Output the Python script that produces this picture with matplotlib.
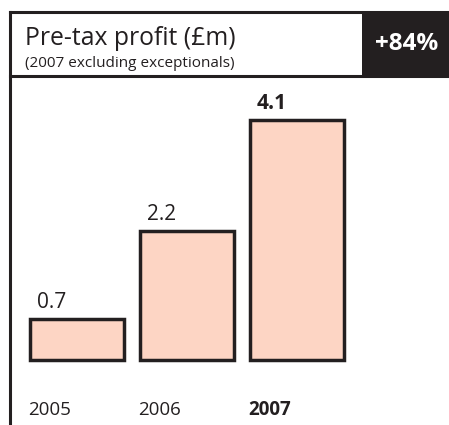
import matplotlib.pyplot as plt
from matplotlib.patches import Rectangle
from matplotlib.lines import Line2D
import matplotlib.transforms as mtrans

years = ['2005', '2006', '2007']
profit = [0.7, 2.2, 4.1]
value_labels = ['0.7', '2.2', '4.1']
bold = [False, False, True]
title = 'Pre-tax profit (£m)'
subtitle = '(2007 excluding exceptionals)'
change = '+84%'

W, H = 449, 425
dark = '#231f20'
fill = '#fdd5c4'
plt.rcParams['font.family'] = ['Open Sans', 'DejaVu Sans']

fig = plt.figure(figsize=(W / 100, H / 100), dpi=100)


def px(x, y):
    # pixel coords (from top-left) to figure fraction
    return x / W, 1 - y / H


# Frame and header
fig.add_artist(Rectangle(px(362, 76), 87 / W, 64 / H, transform=fig.transFigure,
                         facecolor=dark, edgecolor='none'))
fig.add_artist(Line2D([10 / W, 1], [1 - 12 / H] * 2, transform=fig.transFigure, color=dark, lw=2.2))
fig.add_artist(Line2D([10 / W, 1], [1 - 76 / H] * 2, transform=fig.transFigure, color=dark, lw=2.2))
fig.add_artist(Line2D([10 / W] * 2, [0, 1 - 12 / H], transform=fig.transFigure, color=dark, lw=2.2))

fig.text(*px(25, 45), title, fontsize=17.8, color=dark, va='baseline')
fig.text(*px(25, 67), subtitle, fontsize=11, color=dark, va='baseline')
fig.text(*px(407, 44), change, fontsize=17.5, color='white', fontweight='bold',
         ha='center', va='center')

# Bars
ymax = 4.6
ax_h = 240 * ymax / 4.1
ax = fig.add_axes([22 / W, 65 / H, 330 / W, ax_h / H])
x = range(len(years))
width = 0.86
ax.bar(x, profit, width=width, color=fill, edgecolor=dark, linewidth=2.5, clip_on=False)
ax.set_xlim(-0.5, 2.5)
ax.set_ylim(0, ymax)
ax.axis('off')

for i, v in enumerate(profit):
    ax.annotate(value_labels[i], (i - width / 2, v), xytext=(5, 8), textcoords='offset points',
                fontsize=15, color=dark, fontweight='bold' if bold[i] else 'normal',
                ha='left', va='baseline')
    trans = mtrans.blended_transform_factory(ax.transData, fig.transFigure)
    ax.text(i - width / 2 - 0.01, 1 - 415 / H, years[i], transform=trans, fontsize=13.5, color=dark,
            fontweight='bold' if bold[i] else 'normal', ha='left', va='baseline')

fig.savefig('out.png', dpi=100)
